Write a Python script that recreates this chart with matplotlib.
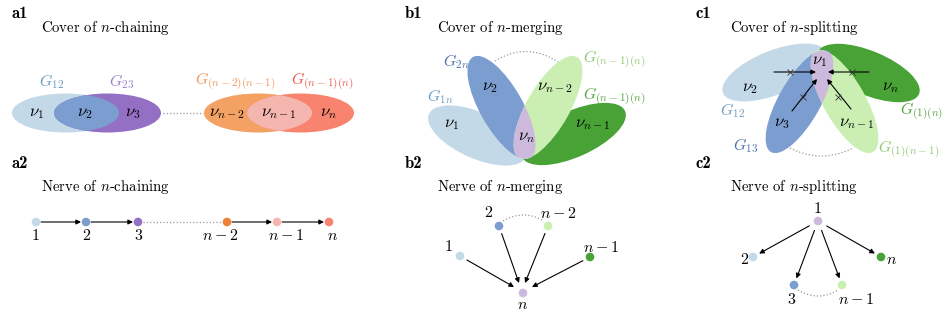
import matplotlib
matplotlib.use('Agg')
import matplotlib.pyplot as plt
import numpy as np
from matplotlib.patches import Ellipse, Circle

plt.rcParams['mathtext.fontset'] = 'cm'
plt.rcParams['font.family'] = ['cmr10', 'DejaVu Serif']

# colours of the nodes / cover pieces
LBLUE = '#c3d9e8'
BLUE = '#7b9dd0'
PURPLE = '#9470c4'
ORANGE = '#f4a264'
PINK = '#f5b6b0'
SALMON = '#f8836e'
LGREEN = '#cbefb3'
DGREEN = '#48a236'
LILAC = '#cdb9dc'

# ---- a : chaining ----
a_nodes = ['1', '2', '3', '$n-2$', '$n-1$', '$n$']
a_cols = [LBLUE, BLUE, PURPLE, '#ef8034', PINK, SALMON]
a_x = [36, 86, 138, 227, 277, 329]
a_cover_names = ['$G_{12}$', '$G_{23}$', '$G_{(n-2)(n-1)}$', '$G_{(n-1)(n)}$']
a_cover_cols = [LBLUE, PURPLE, ORANGE, SALMON]
a_cover_lab_cols = ['#6a9bbf', '#9d80d2', '#f4935a', '#ee5a4a']
a_nu = [r'$\nu_1$', r'$\nu_2$', r'$\nu_3$', r'$\nu_{n-2}$', r'$\nu_{n-1}$', r'$\nu_n$']

# ---- b : merging ----
b_nodes = ['1', '2', '$n-2$', '$n-1$', '$n$']
b_cols = [LBLUE, BLUE, LGREEN, DGREEN, LILAC]
b_cover_names = ['$G_{1n}$', '$G_{2n}$', '$G_{(n-1)(n)}$', '$G_{(n-1)(n)}$']
b_cover_lab_cols = ['#6f9dbf', '#4e72aa', '#8fc873', '#55a443']
b_nu = [r'$\nu_1$', r'$\nu_2$', r'$\nu_{n-2}$', r'$\nu_{n-1}$', r'$\nu_n$']

# ---- c : splitting ----
c_nodes = ['1', '2', '3', '$n-1$', '$n$']
c_cols = [LILAC, LBLUE, BLUE, LGREEN, DGREEN]
c_cover_names = ['$G_{12}$', '$G_{13}$', '$G_{(1)(n-1)}$', '$G_{(1)(n)}$']
c_cover_lab_cols = ['#6f9dbf', '#4e72aa', '#8fc873', '#55a443']
c_nu = [r'$\nu_1$', r'$\nu_2$', r'$\nu_3$', r'$\nu_{n-1}$', r'$\nu_n$']

fig = plt.figure(figsize=(9.44, 3.16), dpi=100)
ax = fig.add_axes([0, 0, 1, 1])
ax.set_xlim(0, 944)
ax.set_ylim(316, 0)
ax.set_aspect('equal')
ax.axis('off')

NUFS = 12
GFS = 11.5
NFS = 11.5


def ell(p1, p2, w, col, z=1):
    p1 = np.array(p1, float)
    p2 = np.array(p2, float)
    c = (p1 + p2) / 2
    d = p2 - p1
    e = Ellipse(c, np.hypot(*d), w, angle=np.degrees(np.arctan2(d[1], d[0])),
                fc=col, ec='none', zorder=z)
    ax.add_patch(e)
    return e


def lens(e1, e2, col, z=3):
    e = Ellipse(e1.center, e1.width, e1.height, angle=e1.angle, fc=col, ec='none', zorder=z)
    ax.add_patch(e)
    e.set_clip_path(e2)
    return e


def node(x, y, col):
    ax.add_patch(Circle((x, y), 4.3, fc=col, ec='none', zorder=5))


def arrow(p1, p2):
    ax.annotate('', xy=p2, xytext=p1,
                arrowprops=dict(arrowstyle='-|>', lw=0.8, color='k',
                                mutation_scale=7, shrinkA=0, shrinkB=0), zorder=4)


def dots(xs, ys):
    ax.plot(xs, ys, ls=':', color='#999999', lw=0.9, zorder=0)


def arc(p1, p2, h, n=40):
    t = np.linspace(0, 1, n)
    xs = p1[0] + (p2[0] - p1[0]) * t
    ys = p1[1] + (p2[1] - p1[1]) * t - h * 4 * t * (1 - t)
    dots(xs, ys)


# panel labels and titles
for lab, x, y in [('a1', 11, 14), ('a2', 11, 164), ('b1', 405, 14), ('b2', 405, 164),
                  ('c1', 695, 14), ('c2', 695, 164)]:
    ax.text(x, y, lab, fontsize=12, family='cmb10', va='center', ha='left')
for t, x, y in [('Cover of $n$-chaining', 41, 28), ('Nerve of $n$-chaining', 41, 187),
                ('Cover of $n$-merging', 437, 28), ('Nerve of $n$-merging', 437, 187),
                ('Cover of $n$-splitting', 730, 28), ('Nerve of $n$-splitting', 730, 187)]:
    ax.text(x, y, t, fontsize=10.6, va='center', ha='left')

# ---------- a1 ----------
ya = 113
e1 = ell((12, ya), (119, ya), 39, a_cover_cols[0])
e2 = ell((54, ya), (161, ya), 39, a_cover_cols[1])
lens(e1, e2, BLUE)
e3 = ell((204, ya), (312, ya), 39, a_cover_cols[2])
e4 = ell((247, ya), (354, ya), 39, a_cover_cols[3])
lens(e3, e4, PINK)
dots([163, 203], [ya, ya])
for s, x in zip(a_nu, [37, 85, 133, 227, 279, 328]):
    ax.text(x, ya, s, fontsize=NUFS, ha='center', va='center', zorder=6)
for s, x, c in zip(a_cover_names, [52, 122, 235, 322], a_cover_lab_cols):
    ax.text(x, 82, s, fontsize=GFS, ha='center', va='center', color=c)

# ---------- a2 ----------
yn = 222
for i, (x, c) in enumerate(zip(a_x, a_cols)):
    node(x, yn, c)
lab_x = [36, 86, 138, 220, 286, 333]
for s, x in zip(a_nodes, lab_x):
    ax.text(x, 236, s, fontsize=NFS, ha='center', va='center')
for i in [0, 1, 3, 4]:
    arrow((a_x[i] + 5, yn), (a_x[i + 1] - 5, yn))
dots([a_x[2] + 5, a_x[3] - 5], [yn, yn])

# ---------- b1 ----------
g1 = ell((429, 114), (526, 157), 46, LBLUE)
g4 = ell((625, 111), (522, 157), 46, DGREEN)
g2 = ell((473, 57), (530, 158), 43, BLUE, z=2)
g3 = ell((577, 57), (519, 158), 43, LGREEN, z=2)
lens(g2, g3, LILAC)
arc((495, 61), (558, 62), 10)
for s, (x, y) in zip(b_nu, [(452, 124), (490, 87), (555, 87), (593, 124), (526, 137)]):
    ax.text(x, y, s, fontsize=NUFS, ha='center', va='center', zorder=6)
for s, (x, y, ha), c in zip(b_cover_names, [(440, 97, 'center'), (456, 62, 'center'),
                                            (583, 60, 'left'), (583, 97, 'left')],
                            b_cover_lab_cols):
    ax.text(x, y, s, fontsize=GFS, ha=ha, va='center', color=c)

# ---------- b2 ----------
b_pos = [(460, 256), (499, 226), (548, 226), (590, 257), (523, 293)]
for (x, y), c in zip(b_pos, b_cols):
    node(x, y, c)
for s, (x, y) in zip(b_nodes, [(449, 247), (488, 213), (558, 213), (601, 247), (523, 305)]):
    ax.text(x, y, s, fontsize=NFS, ha='center', va='center')
arc((503, 221), (544, 221), 6)
for (x, y), end in zip(b_pos[:4], [(514, 287), (519, 283), (525, 283), (532, 287)]):
    v = np.array(end) - np.array((x, y))
    v = v / np.hypot(*v)
    arrow((x + 8 * v[0], y + 8 * v[1]), end)

# ---------- c1 ----------
h1 = ell((723, 93), (826, 52), 44, LBLUE)
h4 = ell((919, 94), (818, 52), 44, DGREEN)
h2 = ell((828, 51), (771, 152), 42, BLUE, z=2)
h3 = ell((816, 51), (873, 152), 42, LGREEN, z=2)
lens(h2, h3, LILAC)
arc((790, 148), (853, 148), -8)
for s, (x, y) in zip(c_nu, [(820, 61), (750, 88), (782, 123), (857, 123), (890, 87)]):
    ax.text(x, y, s, fontsize=NUFS, ha='center', va='center', zorder=6)
# flows into nu_1
for p1, p2, m in [((774, 72), (816, 72), (790, 72)), ((869, 72), (828, 72), (852, 72)),
                  ((792, 111), (817, 79), (803, 97)), ((851, 109), (827, 79), (838, 97))]:
    arrow(p1, p2)
    ax.plot(*m, marker='x', ms=4, mew=0.6, color='#333333', zorder=6)
for s, (x, y, ha), c in zip(c_cover_names, [(733, 111, 'center'), (746, 146, 'center'),
                                            (878, 150, 'left'), (900, 112, 'left')],
                            c_cover_lab_cols):
    ax.text(x, y, s, fontsize=GFS, ha=ha, va='center', color=c, zorder=7)

# ---------- c2 ----------
c_pos = [(818, 221), (753, 257), (794, 285), (842, 285), (881, 257)]
for (x, y), c in zip(c_pos, c_cols):
    node(x, y, c)
for s, (x, y) in zip(c_nodes, [(818, 209), (744, 260), (791, 300), (856, 300), (892, 260)]):
    ax.text(x, y, s, fontsize=NFS, ha='center', va='center')
arc((798, 290), (838, 290), -6)
sx, sy = c_pos[0]
for (x, y) in c_pos[1:]:
    v = np.array((x, y)) - np.array((sx, sy))
    v = v / np.hypot(*v)
    arrow((sx + 10 * v[0], sy + 10 * v[1]), (x - 7 * v[0], y - 7 * v[1]))

fig.savefig('out.png', dpi=100)
